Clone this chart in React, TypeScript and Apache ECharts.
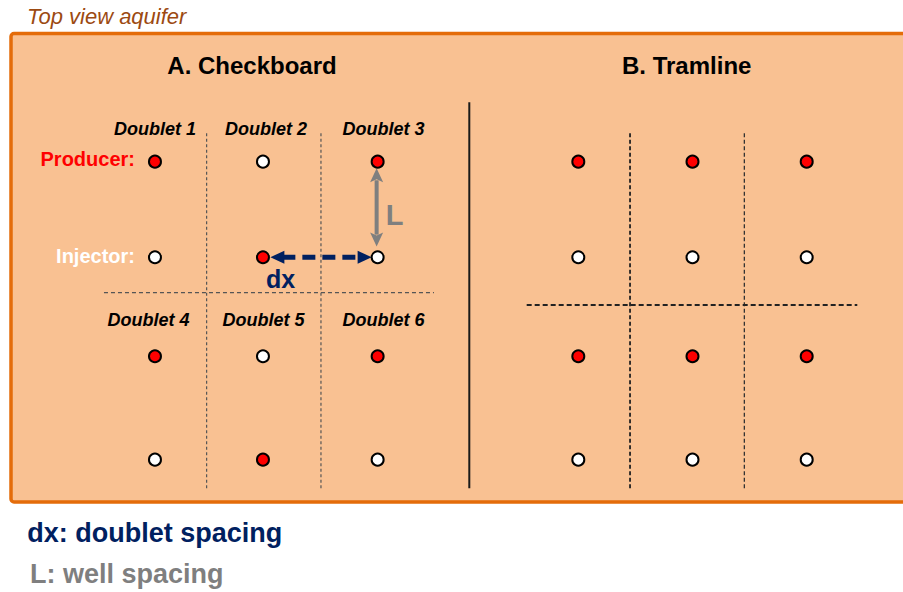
import React, { useEffect, useRef } from "react";
import * as echarts from "echarts";

// ---- data ----
const panelTitles = ["A. Checkboard", "B. Tramline"];
const doubletLabels = ["Doublet 1", "Doublet 2", "Doublet 3", "Doublet 4", "Doublet 5", "Doublet 6"];
const roleLabels = ["Producer:", "Injector:"];
const legendLabels = ["dx: doublet spacing", "L: well spacing"];
const headerLabel = "Top view aquifer";

// well column / row positions (grid units)
const wellColumnsA = [1, 1.97, 3];
const wellColumnsB = [1, 2, 3];
const wellRows = [1, 1.962, 2.959, 4];

// P = producer, I = injector ; rows top→bottom, columns left→right
const checkboardTypes = [
  ["P", "I", "P"],
  ["I", "P", "I"],
  ["P", "I", "P"],
  ["I", "P", "I"],
];
const tramlineTypes = [
  ["P", "P", "P"],
  ["I", "I", "I"],
  ["P", "P", "P"],
  ["I", "I", "I"],
];

// doublet boundaries (grid units)
const boundaryColsA = [1.464, 2.491];
const boundaryColsB = [1.453, 2.454];
const boundaryRowA = 2.319;
const boundaryRowB = 2.443;

const FONT = '"Liberation Sans", Arial, sans-serif';
const RED = "#FF0000";
const NAVY = "#002060";
const GRAY = "#7F7F7F";

function wellData(cols: number[], types: string[][], role: string) {
  const out: number[][] = [];
  types.forEach((row, r) =>
    row.forEach((t, c) => {
      if (t === role) out.push([cols[c], wellRows[r]]);
    })
  );
  return out;
}

export default function App() {
  const ref = useRef<HTMLDivElement>(null);

  useEffect(() => {
    document.body.style.margin = "0";
    const chart = echarts.init(ref.current!, null, { renderer: "svg" });

    const wellSeries = (g: number, data: number[][], color: string) => ({
      type: "scatter",
      xAxisIndex: g,
      yAxisIndex: g,
      data,
      symbol: "circle",
      symbolSize: 12,
      z: 5,
      silent: true,
      itemStyle: { color, borderColor: "#000", borderWidth: 2, opacity: 1 },
    });

    const lineSeries = (g: number, data: number[][], color: string, width: number, dash: number[]) => ({
      type: "line",
      xAxisIndex: g,
      yAxisIndex: g,
      data,
      symbol: "none",
      silent: true,
      clip: false,
      z: 2,
      lineStyle: { color, width, type: dash },
    });

    const yTop = 0.714;
    const yBot = 4.305;

    const series: any[] = [
      lineSeries(0, [[boundaryColsA[0], yTop], [boundaryColsA[0], yBot]], "#555", 1.2, [3, 2.5]),
      lineSeries(0, [[boundaryColsA[1], yTop], [boundaryColsA[1], yBot]], "#555", 1.2, [3, 2.5]),
      lineSeries(0, [[0.542, boundaryRowA], [3.506, boundaryRowA]], "#555", 1.2, [4, 3]),
      lineSeries(1, [[boundaryColsB[0], yTop], [boundaryColsB[0], yBot]], "#222", 1.8, [4, 2.5]),
      lineSeries(1, [[boundaryColsB[1], yTop], [boundaryColsB[1], yBot]], "#333", 1.3, [4, 2.5]),
      lineSeries(1, [[0.548, boundaryRowB], [3.443, boundaryRowB]], "#222", 1.8, [5, 3]),
      wellSeries(0, wellData(wellColumnsA, checkboardTypes, "P"), RED),
      wellSeries(0, wellData(wellColumnsA, checkboardTypes, "I"), "#FFFFFF"),
      wellSeries(1, wellData(wellColumnsB, tramlineTypes, "P"), RED),
      wellSeries(1, wellData(wellColumnsB, tramlineTypes, "I"), "#FFFFFF"),
    ];

    chart.setOption({
      animation: false,
      grid: [
        { left: 99.3, top: 112, width: 334, height: 397.3, show: false },
        { left: 521.2, top: 112, width: 342.6, height: 397.3, show: false },
      ],
      xAxis: [0, 1].map((i) => ({ type: "value", gridIndex: i, min: 0.5, max: 3.5, show: false })),
      yAxis: [0, 1].map((i) => ({ type: "value", gridIndex: i, min: 0.5, max: 4.5, inverse: true, show: false })),
      series,
    });

    const px = (g: number, p: number[]) => chart.convertToPixel({ gridIndex: g } as any, p) as unknown as number[];

    const text = (t: string, x: number, y: number, size: number, fill: string, opts: any = {}) => ({
      type: "text",
      x,
      y,
      z: 10,
      silent: true,
      style: {
        text: t,
        fill,
        fontSize: size,
        fontFamily: FONT,
        fontWeight: opts.weight ?? "bold",
        fontStyle: opts.style ?? "normal",
        align: opts.align ?? "center",
        verticalAlign: "middle",
      },
    });

    // L arrow (vertical, between producer and injector of doublet 3)
    const lTop = px(0, [wellColumnsA[2], wellRows[0]]);
    const lBot = px(0, [wellColumnsA[2], wellRows[1]]);
    const lx = lTop[0] - 1;
    const lt = lTop[1] + 6.6;
    const lb = lBot[1] - 10.6;
    const headL = 14;
    const headW = 6.5;

    // dx arrow (horizontal, between doublet 2 and 3 injector row)
    const dLeft = px(0, [wellColumnsA[1], wellRows[1]]);
    const dRight = px(0, [wellColumnsA[2], wellRows[1]]);
    const dy = dLeft[1];
    const dl = dLeft[0] + 7.4;
    const dr = dRight[0] - 6;

    const graphics: any[] = [
      {
        type: "rect",
        z: -10,
        silent: true,
        shape: { x: 11, y: 33.5, width: 910, height: 468.5, r: 3 },
        style: { fill: "#F9C192", stroke: "#E46C0A", lineWidth: 3.5 },
      },
      text(headerLabel, 27, 16.5, 22, "#9C4A12", { weight: "normal", style: "italic", align: "left" }),
      text(panelTitles[0], 252, 65.3, 24, "#000"),
      text(panelTitles[1], 686.7, 65.3, 24, "#000"),
      // separator
      {
        type: "line",
        z: 3,
        silent: true,
        shape: { x1: 469.3, y1: 102.3, x2: 469.3, y2: 488.3 },
        style: { stroke: "#1a1a1a", lineWidth: 2 },
      },
      text(doubletLabels[0], 155, 129.3, 18, "#000", { style: "italic" }),
      text(doubletLabels[1], 266, 129.3, 18, "#000", { style: "italic" }),
      text(doubletLabels[2], 383.5, 129.3, 18, "#000", { style: "italic" }),
      text(doubletLabels[3], 148.5, 320, 18, "#000", { style: "italic" }),
      text(doubletLabels[4], 263.5, 320, 18, "#000", { style: "italic" }),
      text(doubletLabels[5], 383.5, 320, 18, "#000", { style: "italic" }),
      text(roleLabels[0], 135, 159, 20, RED, { align: "right" }),
      text(roleLabels[1], 135, 255.5, 20, "#FFFFFF", { align: "right" }),
      // L arrow
      {
        type: "line",
        z: 4,
        silent: true,
        shape: { x1: lx, y1: lt + headL - 2, x2: lx, y2: lb - headL + 2 },
        style: { stroke: GRAY, lineWidth: 4 },
      },
      {
        type: "polygon",
        z: 4,
        silent: true,
        shape: { points: [[lx, lt], [lx - headW, lt + headL], [lx, lt + headL - 3], [lx + headW, lt + headL]] },
        style: { fill: GRAY },
      },
      {
        type: "polygon",
        z: 4,
        silent: true,
        shape: { points: [[lx, lb], [lx - headW, lb - headL], [lx, lb - headL + 3], [lx + headW, lb - headL]] },
        style: { fill: GRAY },
      },
      text("L", 394.5, 214.5, 29, GRAY),
      // dx arrow
      {
        type: "line",
        z: 4,
        silent: true,
        shape: { x1: dl + headL - 2, y1: dy, x2: dr - headL + 2, y2: dy },
        style: { stroke: NAVY, lineWidth: 5, lineDash: [13, 7] },
      },
      {
        type: "polygon",
        z: 4,
        silent: true,
        shape: { points: [[dl, dy], [dl + headL, dy - headW], [dl + headL, dy + headW]] },
        style: { fill: NAVY },
      },
      {
        type: "polygon",
        z: 4,
        silent: true,
        shape: { points: [[dr, dy], [dr - headL, dy - headW], [dr - headL, dy + headW]] },
        style: { fill: NAVY },
      },
      text("dx", 280.5, 278.5, 25, NAVY),
      // legend texts
      text(legendLabels[0], 27.3, 533.3, 27, NAVY, { align: "left" }),
      text(legendLabels[1], 30, 573.5, 27, GRAY, { align: "left" }),
    ];

    chart.setOption({ graphic: graphics });

    return () => chart.dispose();
  }, []);

  return <div ref={ref} style={{ width: 903, height: 592 }} />;
}
